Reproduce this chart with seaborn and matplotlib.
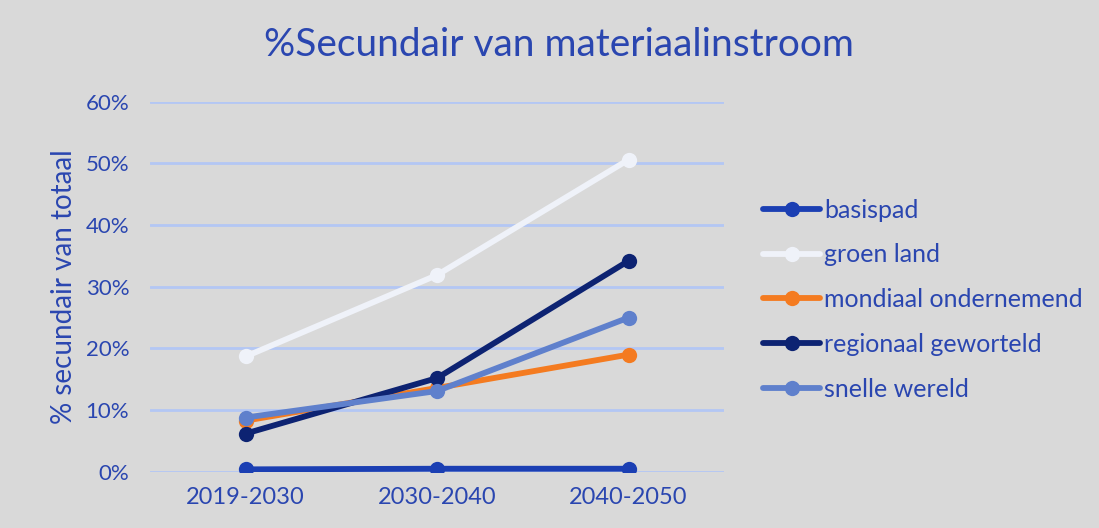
import pandas as pd
import matplotlib.pyplot as plt
import seaborn as sns

periodes = ["2019-2030", "2030-2040", "2040-2050"]
basispad = [0.4, 0.5, 0.5]
groen_land = [18.7, 31.9, 50.6]
mondiaal_ondernemend = [8.3, 13.6, 19.0]
regionaal_geworteld = [6.2, 15.2, 34.2]
snelle_wereld = [8.8, 13.1, 25.0]

scenario_namen = ["basispad", "groen land", "mondiaal ondernemend",
                  "regionaal geworteld", "snelle wereld"]
kleuren = ["#1b3fb3", "#eff2f9", "#f47b20", "#0d2372", "#5f80cc"]

series = [basispad, groen_land, mondiaal_ondernemend, regionaal_geworteld, snelle_wereld]
rows = []
for naam, waarden in zip(scenario_namen, series):
    for p, w in zip(periodes, waarden):
        rows.append({"periode": p, "scenario": naam, "waarde": w})
df = pd.DataFrame(rows)

bg = "#d9d9d9"
tekst = "#2a46b0"

sns.set_style("white")
plt.rcParams["font.family"] = ["Lato", "DejaVu Sans"]

fig = plt.figure(figsize=(10.99, 5.28), dpi=100, facecolor=bg)
ax = fig.add_axes([0.1365, 0.1064, 0.5225, 0.701])
ax.set_facecolor(bg)

sns.lineplot(data=df, x="periode", y="waarde", hue="scenario",
             hue_order=scenario_namen, palette=kleuren, marker="o",
             markersize=11, markeredgewidth=0, linewidth=4.2, ax=ax,
             sort=False)

ax.set_xlim(-0.5, 2.5)
ax.set_ylim(0, 60)
ax.set_yticks(range(0, 61, 10))
ax.set_yticklabels([f"{v}%" for v in range(0, 61, 10)])
ax.yaxis.grid(True, color="#b3c7f4", linewidth=2)
ax.set_axisbelow(True)
for s in ax.spines.values():
    s.set_visible(False)
ax.tick_params(axis="x", length=0, labelsize=17, colors=tekst, pad=11)
ax.tick_params(axis="y", length=0, labelsize=16, colors=tekst, pad=15)
ax.set_xlabel("")
ax.set_ylabel("% secundair van totaal", fontsize=20, color=tekst, labelpad=6)

fig.text(0.5087, 1 - 56 / 528, "%Secundair van materiaalinstroom",
         ha="center", va="baseline", fontsize=28, color=tekst)

leg = ax.legend(loc="center left", bbox_to_anchor=(1.0505, 0.465), frameon=False,
                fontsize=18, handlelength=2.28, handletextpad=0.16,
                labelspacing=0.87, borderaxespad=0)
for t in leg.get_texts():
    t.set_color(tekst)

fig.savefig("out.png", dpi=100, facecolor=bg)
